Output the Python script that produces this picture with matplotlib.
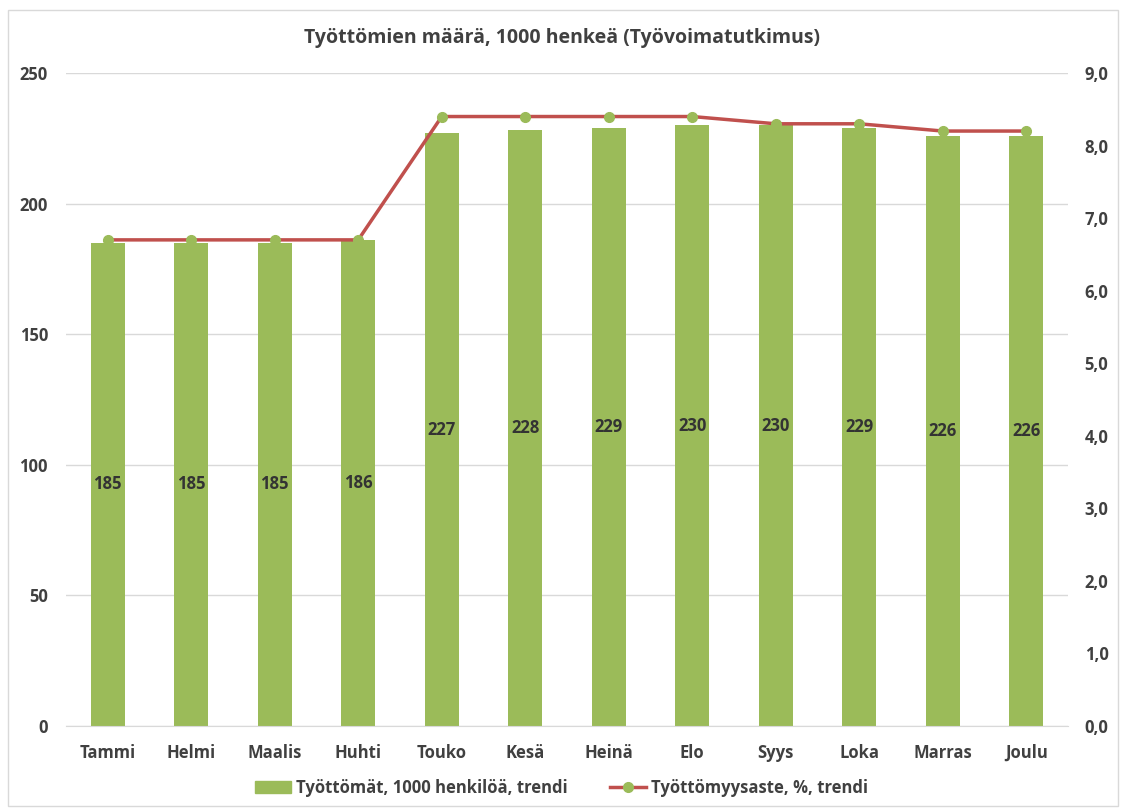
import matplotlib
matplotlib.use("Agg")
import matplotlib.pyplot as plt
from matplotlib.patches import Rectangle, Patch
from matplotlib.lines import Line2D
from matplotlib.ticker import FuncFormatter, MultipleLocator

months = ["Tammi", "Helmi", "Maalis", "Huhti", "Touko", "Kesä", "Heinä", "Elo", "Syys", "Loka", "Marras", "Joulu"]
tyottomat = [185, 185, 185, 186, 227, 228, 229, 230, 230, 229, 226, 226]
aste = [6.7, 6.7, 6.7, 6.7, 8.4, 8.4, 8.4, 8.4, 8.3, 8.3, 8.2, 8.2]

title = "Työttömien määrä, 1000 henkeä (Työvoimatutkimus)"
bar_label = "Työttömät, 1000 henkilöä, trendi"
line_label = "Työttömyysaste, %, trendi"

GREEN = "#9BBB59"
RED = "#C0504D"
TXT = "#404040"
GRID = "#D9D9D9"

plt.rcParams['font.family'] = ['Open Sans', 'DejaVu Sans']

fig = plt.figure(figsize=(11.23, 8.09), dpi=100)
fig.patches.append(Rectangle((8/1123, 1-806/809), 1110/1123, 796/809, transform=fig.transFigure,
                             fill=False, edgecolor="#D9D9D9", linewidth=1))
ax = fig.add_axes([66/1123, 1-726/809, 1002/1123, 653/809])
ax2 = ax.twinx()

x = list(range(len(months)))
ax.bar(x, tyottomat, width=0.41, color=GREEN, zorder=2)
for xi, v in zip(x, tyottomat):
    ax.text(xi, v/2, str(v), ha="center", va="center", fontsize=12, fontweight="bold", color="#333333", zorder=3)

ax.set_ylim(0, 250)
ax.set_xlim(-0.5, len(months)-0.5)
ax.yaxis.set_major_locator(MultipleLocator(50))
ax.grid(axis="y", color=GRID, linewidth=1, zorder=0)
ax.set_axisbelow(True)
ax.set_xticks(x)
ax.set_xticklabels(months)
for s in ["top", "left", "right"]:
    ax.spines[s].set_visible(False)
ax.spines["bottom"].set_color(GRID)
ax.tick_params(axis="both", length=0, labelsize=12, colors=TXT, pad=13)
ax.tick_params(axis="y", pad=13)
for lbl in ax.get_xticklabels() + ax.get_yticklabels():
    lbl.set_fontweight("bold")

ax2.plot(x, aste, color=RED, linewidth=2.5, marker="o", markersize=7,
         markerfacecolor=GREEN, markeredgecolor=GREEN, zorder=4)
ax2.set_ylim(0, 9)
ax2.yaxis.set_major_locator(MultipleLocator(1))
ax2.yaxis.set_major_formatter(FuncFormatter(lambda v, p: f"{v:.1f}".replace(".", ",")))
for s in ["top", "left", "right", "bottom"]:
    ax2.spines[s].set_visible(False)
ax2.tick_params(axis="y", length=0, labelsize=12, colors=TXT, pad=12)
for lbl in ax2.get_yticklabels():
    lbl.set_fontweight("bold")

fig.text(0.5, 1-38/809, title, ha="center", va="center", fontsize=14, fontweight="bold", color=TXT)

handles = [Patch(color=GREEN, label=bar_label),
           Line2D([0], [0], color=RED, linewidth=2.5, marker="o", markersize=7,
                  markerfacecolor=GREEN, markeredgecolor=GREEN, label=line_label)]
leg = fig.legend(handles=handles, loc="center", bbox_to_anchor=(0.5, 1-788/809), ncol=2, frameon=False,
                 fontsize=12, handlelength=2.2, handletextpad=0.3, columnspacing=2.5)
for t in leg.get_texts():
    t.set_color(TXT)
    t.set_fontweight("bold")

fig.savefig("out.png", dpi=100)
